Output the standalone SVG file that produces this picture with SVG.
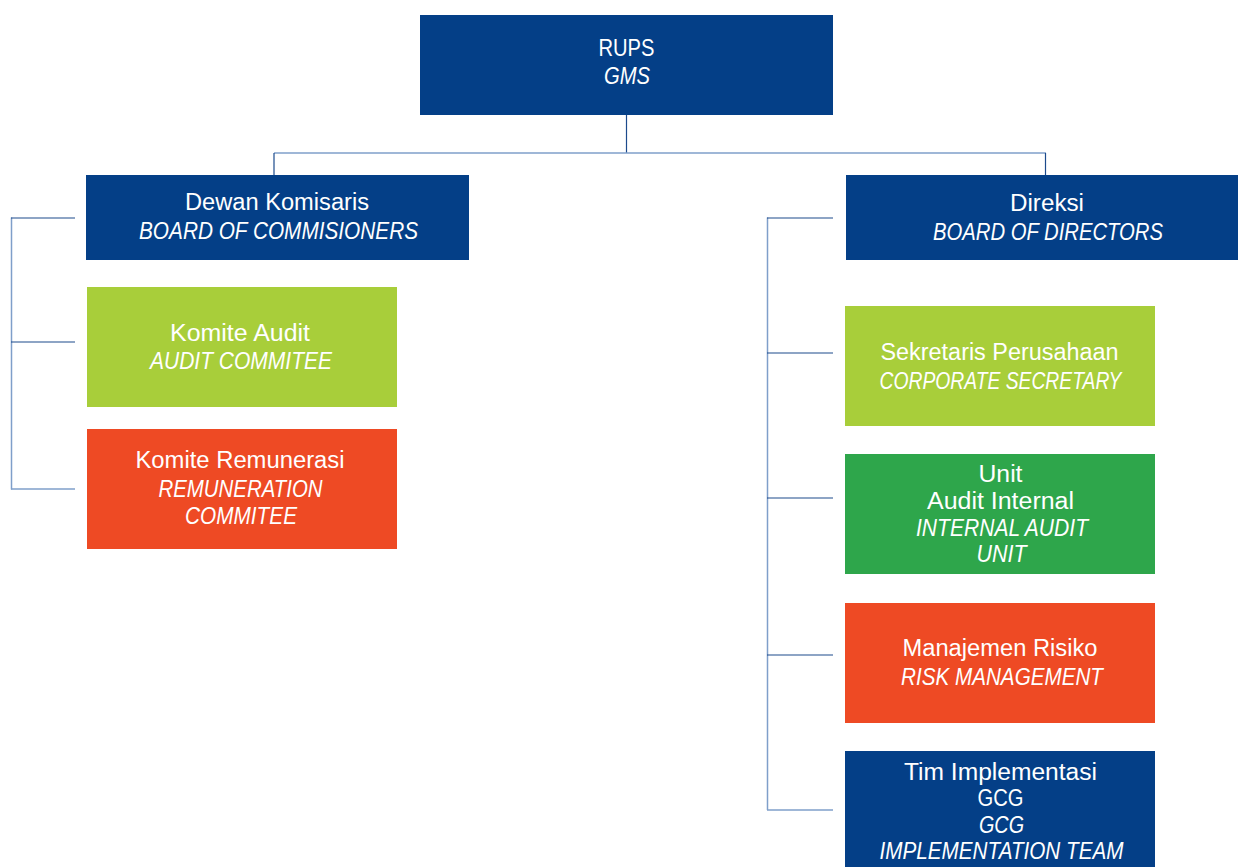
<svg xmlns="http://www.w3.org/2000/svg" width="1238" height="867" viewBox="0 0 1238 867">
<style>
.navy{fill:#043f87}
.lime{fill:#a8ce3a}
.green{fill:#2ea64b}
.orange{fill:#ee4a24}
text{font-family:"Liberation Sans",Arial,sans-serif;font-size:23px;fill:#ffffff;text-anchor:middle}
.it{font-style:italic}
.dk{stroke:#1c4a8c;stroke-width:1.2;fill:none}
.lt{stroke:#7f9fca;stroke-width:1.5;fill:none}
</style>
<rect width="1238" height="867" fill="#ffffff"/>
<g id="connectors">
<line class="dk" x1="626.5" y1="115" x2="626.5" y2="153"/>
<line class="lt" x1="274" y1="153" x2="1046" y2="153"/>
<line class="dk" x1="274" y1="153" x2="274" y2="175"/>
<line class="dk" x1="1045.5" y1="153" x2="1045.5" y2="175"/>
<line class="lt" x1="11.5" y1="217.5" x2="11.5" y2="489.5"/>
<line class="dk" x1="11" y1="218" x2="75" y2="218"/>
<line class="dk" x1="11" y1="342" x2="75" y2="342"/>
<line class="lt" x1="11" y1="489" x2="75" y2="489"/>
<line class="lt" x1="767.5" y1="217.5" x2="767.5" y2="810"/>
<line class="dk" x1="767" y1="218" x2="833" y2="218"/>
<line class="dk" x1="767" y1="353" x2="833" y2="353"/>
<line class="dk" x1="767" y1="498" x2="833" y2="498"/>
<line class="dk" x1="767" y1="655" x2="833" y2="655"/>
<line class="lt" x1="767" y1="810" x2="833" y2="810"/>
</g>
<g id="rups">
<rect class="navy" x="420" y="15" width="413" height="100"/>
<text x="626.5" y="56" textLength="56" lengthAdjust="spacingAndGlyphs">RUPS</text>
<text class="it" x="627" y="84" textLength="46" lengthAdjust="spacingAndGlyphs">GMS</text>
</g>
<g id="dewan">
<rect class="navy" x="86" y="175" width="383" height="85"/>
<text x="277" y="210" textLength="184" lengthAdjust="spacingAndGlyphs">Dewan Komisaris</text>
<text class="it" x="278.5" y="239" textLength="279" lengthAdjust="spacingAndGlyphs">BOARD OF COMMISIONERS</text>
</g>
<g id="komite-audit">
<rect class="lime" x="87" y="287" width="310" height="120"/>
<text x="240" y="340.5" textLength="140" lengthAdjust="spacingAndGlyphs">Komite Audit</text>
<text class="it" x="241" y="369" textLength="182" lengthAdjust="spacingAndGlyphs">AUDIT COMMITEE</text>
</g>
<g id="komite-remunerasi">
<rect class="orange" x="87" y="429" width="310" height="120"/>
<text x="240" y="467.5" textLength="209" lengthAdjust="spacingAndGlyphs">Komite Remunerasi</text>
<text class="it" x="240.5" y="496.5" textLength="164" lengthAdjust="spacingAndGlyphs">REMUNERATION</text>
<text class="it" x="241" y="524" textLength="112" lengthAdjust="spacingAndGlyphs">COMMITEE</text>
</g>
<g id="direksi">
<rect class="navy" x="846" y="175" width="392" height="85"/>
<text x="1047" y="210.5" textLength="74" lengthAdjust="spacingAndGlyphs">Direksi</text>
<text class="it" x="1048" y="239.5" textLength="230" lengthAdjust="spacingAndGlyphs">BOARD OF DIRECTORS</text>
</g>
<g id="sekretaris">
<rect class="lime" x="845" y="306" width="310" height="120"/>
<text x="999.5" y="360" textLength="238" lengthAdjust="spacingAndGlyphs">Sekretaris Perusahaan</text>
<text class="it" x="1000.5" y="388.5" textLength="242" lengthAdjust="spacingAndGlyphs">CORPORATE SECRETARY</text>
</g>
<g id="audit-internal">
<rect class="green" x="845" y="454" width="310" height="120"/>
<text x="1000.5" y="481.5" textLength="44" lengthAdjust="spacingAndGlyphs">Unit</text>
<text x="1000.5" y="509" textLength="147" lengthAdjust="spacingAndGlyphs">Audit Internal</text>
<text class="it" x="1002" y="536" textLength="172" lengthAdjust="spacingAndGlyphs">INTERNAL AUDIT</text>
<text class="it" x="1001.5" y="561.5" textLength="50" lengthAdjust="spacingAndGlyphs">UNIT</text>
</g>
<g id="risiko">
<rect class="orange" x="845" y="603" width="310" height="120"/>
<text x="1000" y="656" textLength="195" lengthAdjust="spacingAndGlyphs">Manajemen Risiko</text>
<text class="it" x="1002" y="685" textLength="202" lengthAdjust="spacingAndGlyphs">RISK MANAGEMENT</text>
</g>
<g id="tim-gcg">
<rect class="navy" x="845" y="751" width="310" height="116"/>
<text x="1000.5" y="780" textLength="193" lengthAdjust="spacingAndGlyphs">Tim Implementasi</text>
<text x="1000.5" y="806" textLength="46" lengthAdjust="spacingAndGlyphs">GCG</text>
<text class="it" x="1001.5" y="832.5" textLength="45" lengthAdjust="spacingAndGlyphs">GCG</text>
<text class="it" x="1001.5" y="859" textLength="244" lengthAdjust="spacingAndGlyphs">IMPLEMENTATION TEAM</text>
</g>
</svg>
